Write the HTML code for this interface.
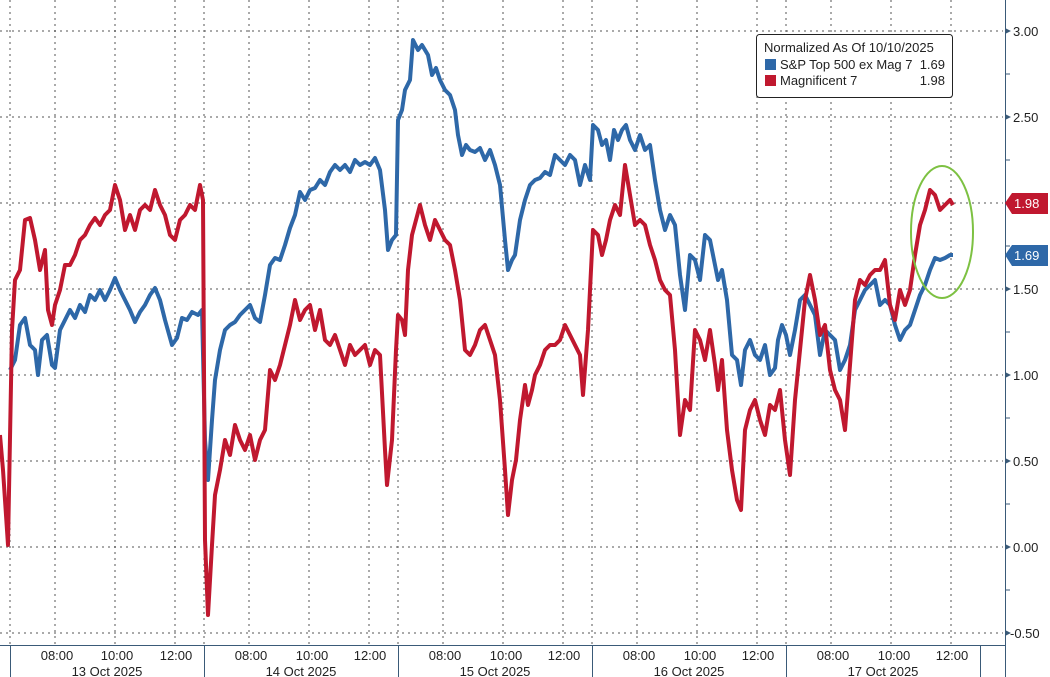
<!DOCTYPE html>
<html><head><meta charset="utf-8"><style>
html,body{margin:0;padding:0;background:#fff;}
svg{display:block;font-family:"Liberation Sans",sans-serif;}
</style></head><body>
<svg width="1050" height="677" viewBox="0 0 1050 677" xmlns="http://www.w3.org/2000/svg">
<rect width="1050" height="677" fill="#fff"/>
<g stroke="#555" stroke-width="1" stroke-dasharray="2,4">
<line x1="0" y1="31" x2="1003" y2="31"/>
<line x1="0" y1="117" x2="1003" y2="117"/>
<line x1="0" y1="203" x2="1003" y2="203"/>
<line x1="0" y1="289" x2="1003" y2="289"/>
<line x1="0" y1="375" x2="1003" y2="375"/>
<line x1="0" y1="461" x2="1003" y2="461"/>
<line x1="0" y1="547" x2="1003" y2="547"/>
<line x1="0" y1="633" x2="1003" y2="633"/>
<line x1="10" y1="0" x2="10" y2="645"/><line x1="55" y1="0" x2="55" y2="645"/><line x1="115" y1="0" x2="115" y2="645"/><line x1="175" y1="0" x2="175" y2="645"/>
<line x1="204" y1="0" x2="204" y2="645"/><line x1="249" y1="0" x2="249" y2="645"/><line x1="309" y1="0" x2="309" y2="645"/><line x1="369" y1="0" x2="369" y2="645"/>
<line x1="398" y1="0" x2="398" y2="645"/><line x1="443" y1="0" x2="443" y2="645"/><line x1="503" y1="0" x2="503" y2="645"/><line x1="563" y1="0" x2="563" y2="645"/>
<line x1="592" y1="0" x2="592" y2="645"/><line x1="637" y1="0" x2="637" y2="645"/><line x1="697" y1="0" x2="697" y2="645"/><line x1="757" y1="0" x2="757" y2="645"/>
<line x1="786" y1="0" x2="786" y2="645"/><line x1="831" y1="0" x2="831" y2="645"/><line x1="891" y1="0" x2="891" y2="645"/><line x1="951" y1="0" x2="951" y2="645"/>
</g>
<g stroke="#3a5a78" stroke-width="1">
<line x1="0" y1="645.5" x2="1005" y2="645.5"/>
<line x1="1005.5" y1="0" x2="1005.5" y2="677"/>
<line x1="10.5" y1="645" x2="10.5" y2="677"/><line x1="204.5" y1="645" x2="204.5" y2="677"/><line x1="398.5" y1="645" x2="398.5" y2="677"/><line x1="592.5" y1="645" x2="592.5" y2="677"/><line x1="786.5" y1="645" x2="786.5" y2="677"/><line x1="980.5" y1="645" x2="980.5" y2="677"/>
</g>
<g stroke="#3a5a78" stroke-width="1">
<line x1="1005" y1="74" x2="1010" y2="74"/><line x1="1005" y1="160" x2="1010" y2="160"/><line x1="1005" y1="246" x2="1010" y2="246"/><line x1="1005" y1="332" x2="1010" y2="332"/><line x1="1005" y1="418" x2="1010" y2="418"/><line x1="1005" y1="504" x2="1010" y2="504"/><line x1="1005" y1="590" x2="1010" y2="590"/>
</g>
<g fill="#3a5a78">
<polygon points="1005,28 1011,31 1005,34"/><polygon points="1005,114 1011,117 1005,120"/><polygon points="1005,286 1011,289 1005,292"/><polygon points="1005,372 1011,375 1005,378"/><polygon points="1005,458 1011,461 1005,464"/><polygon points="1005,544 1011,547 1005,550"/><polygon points="1005,630 1011,633 1005,636"/>
</g>
<g font-size="13" fill="#222">
<text x="1013" y="36">3.00</text><text x="1013" y="122">2.50</text><text x="1013" y="294">1.50</text><text x="1013" y="380">1.00</text><text x="1013" y="466">0.50</text><text x="1013" y="552">0.00</text><text x="1010" y="638">-0.50</text>
</g>
<g font-size="13" fill="#222" text-anchor="middle">
<text x="57" y="660">08:00</text><text x="117" y="660">10:00</text><text x="176" y="660">12:00</text>
<text x="251" y="660">08:00</text><text x="312" y="660">10:00</text><text x="370" y="660">12:00</text>
<text x="445" y="660">08:00</text><text x="506" y="660">10:00</text><text x="564" y="660">12:00</text>
<text x="639" y="660">08:00</text><text x="700" y="660">10:00</text><text x="758" y="660">12:00</text>
<text x="833" y="660">08:00</text><text x="894" y="660">10:00</text><text x="952" y="660">12:00</text>
<text x="107" y="676">13 Oct 2025</text><text x="301" y="676">14 Oct 2025</text><text x="495" y="676">15 Oct 2025</text><text x="689" y="676">16 Oct 2025</text><text x="883" y="676">17 Oct 2025</text>
</g>
<polyline fill="none" stroke="#2e68a8" stroke-width="4" stroke-linejoin="round" points="10,370 15,360 20,325 25,318 30,345 35,350 38,375 42,340 47,335 52,365 55,368 60,330 65,320 70,310 75,318 80,305 85,312 90,295 95,300 100,290 105,300 110,290 115,278 120,290 125,300 130,310 135,322 140,312 145,305 150,295 155,288 160,300 165,320 172,345 177,338 182,318 187,320 192,312 198,315 202,310 205,440 208,480 212,420 215,380 220,350 225,330 230,325 235,322 240,315 245,310 250,305 255,318 260,322 265,295 270,265 275,258 280,260 285,245 290,228 295,215 300,192 305,200 310,190 315,188 320,180 325,185 330,172 335,165 340,170 345,165 350,172 355,160 360,165 365,162 370,165 375,158 380,170 385,210 388,250 392,240 396,235 398,120 402,110 405,90 410,80 413,40 418,50 422,45 428,55 432,75 436,68 440,80 445,90 450,95 455,110 458,135 462,155 466,145 470,150 475,152 480,148 485,160 490,150 495,165 500,185 505,240 508,270 512,260 515,255 520,220 525,200 530,185 535,180 540,178 545,172 550,175 555,155 560,160 565,165 570,155 575,160 580,185 585,165 590,180 593,125 598,130 602,145 606,140 610,160 614,130 618,140 622,130 626,125 630,140 635,150 640,135 645,150 650,145 655,180 660,210 665,230 670,215 675,225 680,275 685,310 690,255 695,260 700,280 705,235 710,240 715,265 718,280 722,270 727,300 732,355 737,360 741,385 745,350 750,340 755,355 760,360 765,345 770,375 775,368 778,340 782,325 786,335 790,355 795,330 800,300 805,295 810,305 815,315 820,355 825,330 830,335 835,340 840,370 845,360 850,345 855,310 860,300 865,290 870,285 875,280 880,305 885,300 890,305 895,325 900,340 905,330 910,325 915,310 920,295 925,285 930,270 935,258 940,260 945,258 950,255 953,255"/>
<polyline fill="none" stroke="#c0182f" stroke-width="4" stroke-linejoin="round" points="0,435 3,470 8,545 12,330 15,280 20,270 25,220 30,218 35,240 40,270 45,250 48,310 52,325 55,305 60,290 65,265 70,265 75,255 80,240 85,235 90,225 95,218 100,225 105,215 110,210 115,185 120,200 125,230 130,215 135,230 140,210 145,205 150,210 155,190 160,205 165,215 170,235 175,240 180,220 185,215 190,205 195,210 200,185 203,200 205,540 208,615 212,545 215,495 220,470 225,440 230,455 235,425 240,440 245,450 250,435 255,460 260,440 265,430 270,370 275,380 280,365 285,345 290,325 295,300 300,320 305,310 310,305 315,330 320,310 325,340 330,345 335,335 340,350 345,365 350,345 355,355 360,350 365,345 370,365 375,350 380,355 385,450 387,485 392,440 396,350 398,315 402,320 405,335 408,270 412,235 416,220 420,205 425,225 430,240 435,220 440,230 445,240 450,245 455,270 460,300 465,350 470,355 475,345 480,330 485,325 490,340 495,355 500,400 505,470 508,515 512,480 516,460 520,420 525,385 528,405 532,390 535,375 540,365 545,350 550,345 555,345 560,340 565,325 570,335 575,345 580,355 583,395 588,330 593,230 598,235 602,255 606,240 610,220 615,205 620,215 625,165 630,195 635,225 640,220 645,225 650,245 655,260 660,280 665,290 670,295 675,350 680,435 685,400 690,410 695,330 700,340 705,360 710,330 715,365 718,390 722,360 727,430 732,470 737,500 741,510 745,430 750,410 755,400 760,420 765,435 770,405 775,410 780,390 785,440 790,475 795,400 800,350 805,300 810,275 815,300 820,335 825,325 830,370 835,390 840,400 845,430 850,365 855,300 860,280 865,285 870,275 875,270 880,270 885,260 890,305 895,320 900,290 905,305 910,290 915,255 920,225 925,210 930,190 935,195 940,210 945,205 950,200 953,205"/>
<ellipse cx="942" cy="232" rx="31" ry="66" fill="none" stroke="#7dc142" stroke-width="2"/>
<polygon points="1005,203 1012,193 1048,193 1048,214 1012,214" fill="#c0182f"/>
<text x="1014" y="208" font-size="13" fill="#fff">1.98</text>
<polygon points="1005,255 1012,245 1048,245 1048,266 1012,266" fill="#2e68a8"/>
<text x="1014" y="260" font-size="13" fill="#fff">1.69</text>
<rect x="756.5" y="34.5" width="196" height="63" rx="3" fill="#fff" stroke="#222" stroke-width="1"/>
<text x="764" y="52" font-size="13" fill="#222">Normalized As Of 10/10/2025</text>
<rect x="765" y="59" width="11" height="11" fill="#2e68a8"/>
<text x="780" y="69" font-size="13" fill="#222">S&amp;P Top 500 ex Mag 7</text><text x="945" y="69" font-size="13" fill="#222" text-anchor="end">1.69</text>
<rect x="765" y="75" width="11" height="11" fill="#c0182f"/>
<text x="780" y="85" font-size="13" fill="#222">Magnificent 7</text><text x="945" y="85" font-size="13" fill="#222" text-anchor="end">1.98</text>
</svg>
</body></html>
